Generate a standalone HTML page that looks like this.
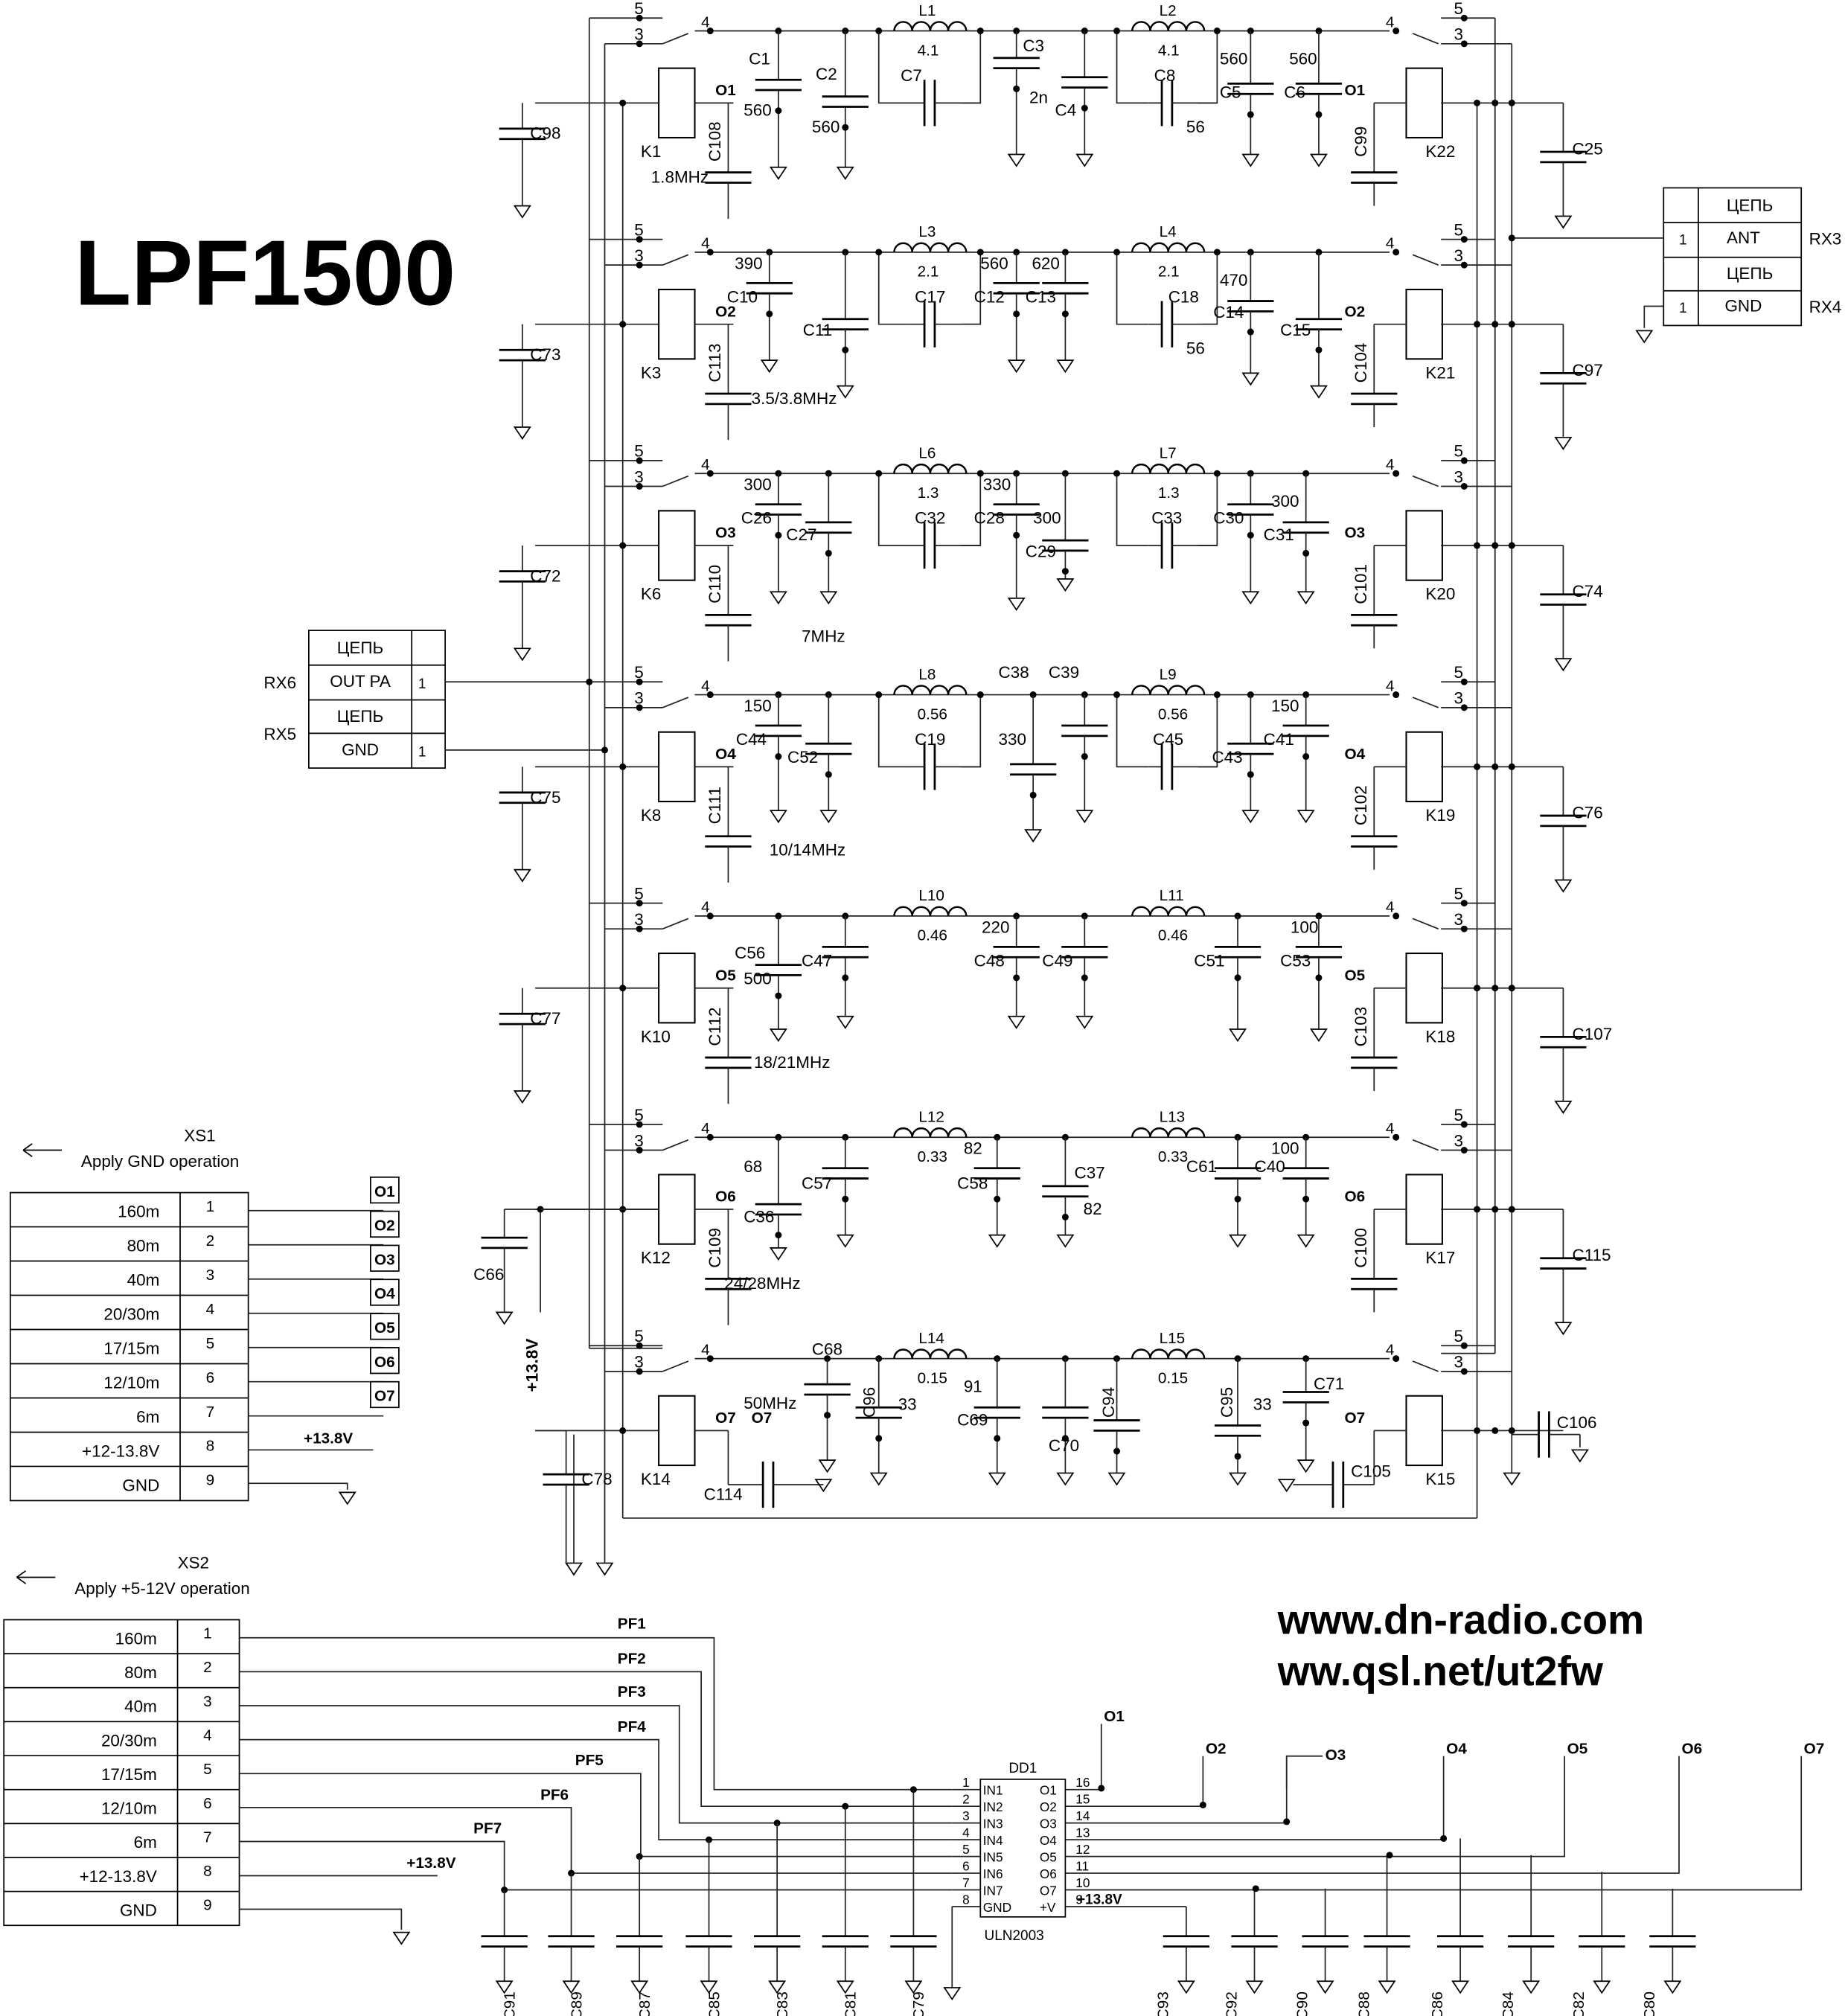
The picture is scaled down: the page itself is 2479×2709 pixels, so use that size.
<!DOCTYPE html>
<html><head><meta charset="utf-8"><style>
html,body{margin:0;padding:0;background:#fff;}
svg{display:block;}
text{font-family:"Liberation Sans",sans-serif;fill:#000;}
</style></head><body>
<svg id="s" xmlns="http://www.w3.org/2000/svg" width="2479" height="2709" viewBox="0 0 1434 1567"></svg>
<script>
(function(){
var o=[];
function L(a,b,c,d,w,col){o.push('<line x1="'+a+'" y1="'+b+'" x2="'+c+'" y2="'+d+'" stroke="'+(col||'#222')+'" stroke-width="'+(w||1)+'"/>');}
function P(pts,w){o.push('<polyline points="'+pts+'" fill="none" stroke="#222" stroke-width="'+(w||1)+'"/>');}
function R(x,y,w,h,sw){o.push('<rect x="'+x+'" y="'+y+'" width="'+w+'" height="'+h+'" fill="none" stroke="#000" stroke-width="'+(sw||1.2)+'"/>');}
function D(x,y){o.push('<circle cx="'+x+'" cy="'+y+'" r="2.6" fill="#000"/>');}
function T(x,y,s,sz,extra){o.push('<text x="'+x+'" y="'+y+'" font-size="'+(sz||13)+'" '+(extra||'')+'>'+s+'</text>');}
function G(x,y){o.push('<polygon points="'+(x-6)+','+y+' '+(x+6)+','+y+' '+x+','+(y+9)+'" fill="none" stroke="#000" stroke-width="1"/>');}
function CV(x,y1,m,y2,g){L(x,y1,x,m-4);L(x-18,m-4,x+18,m-4,1.6,'#000');L(x-18,m+4,x+18,m+4,1.6,'#000');L(x,m+4,x,y2);if(g)G(x,y2);}
function CH(x1,x2,y,m){L(x1,y,m-4,y);L(m-4,y-18,m-4,y+18,1.6,'#000');L(m+4,y-18,m+4,y+18,1.6,'#000');L(m+4,y,x2,y);}
function IND(x,y){var s='M'+x+' '+y;for(var i=0;i<4;i++){s+=' a7 7 0 0 1 14 0';}o.push('<path d="'+s+'" fill="none" stroke="#000" stroke-width="1.4"/>');}

L(458,14,458,1048);L(458,1048,515,1048);
L(470,34,470,1215);G(470,1215);
L(446,1115,446,1215);G(446,1215);
L(484,80,484,1180);L(484,1180,1148,1180);L(1148,80,1148,1180);
L(1162,14,1162,1052);L(1120,1052,1162,1052);
L(1175,34,1175,1145);G(1175,1145);

var rows=[
 {c:[[605,66,130],[657,79,130],[790,49,120],[843,64,120],[972,69,120],[1025,69,120]],par:[1,1],L:['L1','L2'],v:['4.1','4.1']},
 {c:[[598,224,280],[657,252,300],[790,224,280],[828,224,280],[972,238,290],[1025,252,300]],par:[1,1],L:['L3','L4'],v:['2.1','2.1']},
 {c:[[605,396,460],[644,410,460],[790,396,465],[828,424,450],[972,396,460],[1015,410,460]],par:[1,1],L:['L6','L7'],v:['1.3','1.3']},
 {c:[[605,568,630],[644,582,630],[803,598,645],[843,568,630],[972,582,630],[1015,568,630]],par:[1,1],L:['L8','L9'],v:['0.56','0.56']},
 {c:[[605,754,800],[657,740,790],[790,740,790],[843,740,790],[962,740,800],[1025,740,800]],par:[0,0],L:['L10','L11'],v:['0.46','0.46']},
 {c:[[605,940,970],[657,912,960],[775,912,960],[828,926,960],[962,912,960],[1015,912,960]],par:[0,0],L:['L12','L13'],v:['0.33','0.33']},
 {c:[[643,1080,1135],[683,1098,1145],[775,1098,1145],[828,1098,1145],[868,1108,1145],[962,1112,1145],[1015,1086,1135]],par:[0,0],L:['L14','L15'],v:['0.15','0.15']}
];
var lc=[[98,108,'K1','K22',25,99],[73,113,'K3','K21',97,104],[72,110,'K6','K20',74,101],[75,111,'K8','K19',76,102],[77,112,'K10','K18',107,103],[66,109,'K12','K17',115,100],[78,114,'K14','K15',106,105]];
for(var i=0;i<7;i++){
 var y0=14+i*172, y=y0+10, yc=y0+66, r=rows[i];
 L(458,y0,515,y0);D(497,y0);T(493,y0-3,'5',13);
 L(470,y0+20,515,y0+20);D(497,y0+20);T(493,y0+17,'3',13);
 L(515,y0+20,535,y0+12);L(540,y,1080,y);D(552,y);T(545,y-3,'4',12);
 L(1120,y0,1162,y0);D(1138,y0);T(1130,y0-3,'5',13);
 L(1120,y0+20,1175,y0+20);D(1138,y0+20);T(1130,y0+17,'3',13);
 L(1098,y0+12,1118,y0+20);D(1085,y);T(1077,y-3,'4',12);
 R(512,yc-27,28,54);R(1093,yc-27,28,54);
 L(416,yc,512,yc);D(484,yc);
 L(1120,yc,1215,yc);D(1148,yc);D(1162,yc);D(1175,yc);
 T(498,yc+42,lc[i][2],13);T(1108,yc+42,lc[i][3],13);
 if(i!=5&&i!=6){CV(406,yc,yc+24,yc+80,1);T(412,yc+28,'C'+lc[i][0],13);}
 if(i!=6){CV(1215,yc,yc+42,yc+88,1);T(1222,yc+40,'C'+lc[i][4],13);
  L(540,yc,570,yc);CV(566,yc,yc+58,yc+90,0);
  T(560,yc+30,'C'+lc[i][1],13,'transform="rotate(-90 560 '+(yc+30)+')" text-anchor="middle"');
  L(1068,yc,1093,yc);CV(1068,yc,yc+58,yc+80,0);
  T(1062,yc+30,'C'+lc[i][5],13,'transform="rotate(-90 1062 '+(yc+30)+')" text-anchor="middle"');}
 T(556,yc-6,'O'+(i+1),12,'font-weight="bold"');T(1045,yc-6,'O'+(i+1),12,'font-weight="bold"');
 IND(695,y);IND(880,y);
 T(714,y-12,r.L[0],12,'fill="#444"');T(901,y-12,r.L[1],12,'fill="#444"');
 T(713,y+19,r.v[0],12,'fill="#555" font-family="Liberation Mono"');T(900,y+19,r.v[1],12,'fill="#555" font-family="Liberation Mono"');
 for(var k=0;k<2;k++){ if(r.par[k]){var xa=k?868:683,xb=k?946:762;P(xa+','+y+' '+xa+','+(yc)+' '+(xa+25)+','+yc);CH(xa+25,xb,yc,(xa+xb)/2);P((xb-15)+','+yc+' '+xb+','+yc+' '+xb+','+y);D(xa,y);D(xb,y);} }
 for(var j=0;j<r.c.length;j++){var c=r.c[j];D(c[0],y);CV(c[0],y,c[1],c[2],1);D(c[0],c[1]+20);}
}
var tl=[[582,50,'C1'],[578,90,'560'],[634,62,'C2'],[631,103,'560'],[700,63,'C7'],[795,40,'C3'],[800,80,'2n'],[820,90,'C4'],[897,63,'C8'],[922,103,'56'],[948,50,'560'],[948,76,'C5'],[1002,50,'560'],[998,76,'C6'],[506,142,'1.8MHz'],
[571,209,'390'],[565,235,'C10'],[624,261,'C11'],[711,235,'C17'],[762,209,'560'],[757,235,'C12'],[802,209,'620'],[797,235,'C13'],[908,235,'C18'],[922,275,'56'],[948,222,'470'],[943,247,'C14'],[995,261,'C15'],[584,314,'3.5/3.8MHz'],
[578,381,'300'],[576,407,'C26'],[611,420,'C27'],[711,407,'C32'],[764,381,'330'],[757,407,'C28'],[803,407,'300'],[797,433,'C29'],[895,407,'C33'],[943,407,'C30'],[988,394,'300'],[982,420,'C31'],[623,499,'7MHz'],
[578,553,'150'],[572,579,'C44'],[612,593,'C52'],[711,579,'C19'],[776,527,'C38'],[815,527,'C39'],[776,579,'330'],[896,579,'C45'],[942,593,'C43'],[988,553,'150'],[982,579,'C41'],[598,665,'10/14MHz'],
[571,745,'C56'],[578,765,'500'],[623,751,'C47'],[763,725,'220'],[757,751,'C48'],[810,751,'C49'],[928,751,'C51'],[1003,725,'100'],[995,751,'C53'],[586,830,'18/21MHz'],
[578,911,'68'],[578,950,'C36'],[623,924,'C57'],[749,897,'82'],[744,924,'C58'],[835,916,'C37'],[842,944,'82'],[922,911,'C61'],[988,897,'100'],[975,911,'C40'],[563,1002,'24/28MHz'],
[631,1053,'C68'],[578,1095,'50MHz'],[698,1096,'33'],[749,1082,'91'],[744,1108,'C69'],[815,1128,'C70'],[974,1096,'33'],[1021,1080,'C71']];
tl.forEach(function(a){T(a[0],a[1],a[2],13);});
T(584,1106,'O7',12,'font-weight="bold"');
['C96','C94','C95'].forEach(function(s,n){var x=[680,866,958][n];T(x,1090,s,13,'transform="rotate(-90 '+x+' 1090)" text-anchor="middle"');});
L(540,1112,566,1112);P('566,1112 566,1154');CH(566,640,1154,597);G(640,1150);T(547,1166,'C114',13);
CH(1005,1068,1154,1040);T(1050,1148,'C105',13);P('1068,1112 1093,1112');L(1068,1112,1068,1154);G(1000,1150);
CH(1175,1228,1115,1200);T(1210,1110,'C106',13);P('1228,1115 1228,1125');G(1228,1127);
CV(440,1112,1150,1215,0);P('416,1112 440,1112');T(452,1154,'C78',13);
CV(392,940,966,1020,1);T(368,995,'C66',13);P('392,940 420,940 420,1020');D(420,940);L(420,940,512,940);
T(418,1082,'+13.8V',13,'font-weight="bold" transform="rotate(-90 418 1082)"');
T(58,237,'LPF1500',72,'font-weight="bold"');
T(993,1270,'www.dn-radio.com',32,'font-weight="bold"');
T(993,1310,'ww.qsl.net/ut2fw',32,'font-weight="bold"');
function tbl(x,y,a,b){R(x,y,106,107,1);L(x,y+27,x+106,y+27,1,'#000');L(x,y+54,x+106,y+54,1,'#000');L(x,y+80,x+106,y+80,1,'#000');L(x+80,y,x+80,y+107,1,'#000');
T(x+40,y+18,'ЦЕПЬ',13,'text-anchor="middle"');T(x+40,y+44,a,13,'text-anchor="middle"');T(x+40,y+71,'ЦЕПЬ',13,'text-anchor="middle"');T(x+40,y+97,b,13,'text-anchor="middle"');}
tbl(240,490,'OUT PA','GND');T(325,535,'1',11);T(325,588,'1',11);T(205,535,'RX6',13);T(205,575,'RX5',13);
L(346,530,458,530);D(458,530);L(346,583,470,583);D(470,583);
R(1293,146,107,107,1);L(1293,173,1400,173,1,'#000');L(1293,200,1400,200,1,'#000');L(1293,226,1400,226,1,'#000');L(1320,146,1320,253,1,'#000');
T(1360,164,'ЦЕПЬ',13,'text-anchor="middle"');T(1355,189,'ANT',13,'text-anchor="middle"');T(1360,217,'ЦЕПЬ',13,'text-anchor="middle"');T(1355,242,'GND',13,'text-anchor="middle"');
T(1305,190,'1',11);T(1305,243,'1',11);T(1406,190,'RX3',13);T(1406,243,'RX4',13);
L(1175,185,1293,185);D(1175,185);P('1293,238 1278,238 1278,255');G(1278,257);
var names=['160m','80m','40m','20/30m','17/15m','12/10m','6m','+12-13.8V','GND'];
function xs(x,y,w,h,c,title,sub){R(x,y,w,h*9,1);L(x+c,y,x+c,y+h*9,1,'#000');for(var i=1;i<9;i++)L(x,y+h*i,x+w,y+h*i,1,'#000');
for(var i=0;i<9;i++){T(x+c-16,y+h*i+h*0.72,names[i],13,'text-anchor="end"');T(x+c+20,y+h*i+h*0.55,String(i+1),12);}
T(x+135,y-40,title,13);T(x+55,y-20,sub,13);L(x+10,y-33,x+40,y-33,1,'#000');L(x+10,y-33,x+17,y-38,1,'#000');L(x+10,y-33,x+17,y-28,1,'#000');}
xs(8,927,185,26.6,132,'XS1','Apply GND operation');
xs(3,1259,183,26.4,135,'XS2','Apply +5-12V operation');
for(var i=0;i<7;i++){var yy=927+26.6*i+14;L(193,yy,298,yy);R(288,915+26.5*i,22,20,1);T(291,930+26.5*i,'O'+(i+1),12,'font-weight="bold"');}
L(193,1127,290,1127);T(236,1122,'+13.8V',12,'font-weight="bold"');P('193,1153 270,1153 270,1158');G(270,1160);
R(762,1383,66,107,1);T(784,1378,'DD1',11,'fill="#444"');T(765,1508,'ULN2003',11,'fill="#444" font-family="Liberation Mono"');
var ins=['IN1','IN2','IN3','IN4','IN5','IN6','IN7','GND'],outs=['O1','O2','O3','O4','O5','O6','O7','+V'];
var pfx=[555,545,528,512,498,444,392],cx=[710,657,604,551,497,444,392];
var pfl=[[480,1266],[480,1293],[480,1319],[480,1346],[447,1372],[420,1399],[368,1425]];
for(var k=0;k<8;k++){var yy=1391+13*k;L(740,yy,762,yy);T(764,yy+4,ins[k],10);T(808,yy+4,outs[k],10);T(748,yy-2,String(k+1),10);T(836,yy-2,String(16-k),10);
 if(k<7){var ty=1273+26.4*k;P('186,'+ty+' '+pfx[k]+','+ty+' '+pfx[k]+','+yy+' 740,'+yy);T(pfl[k][0],pfl[k][1],'PF'+(k+1),12,'font-weight="bold"');}}
P('186,1458 340,1458');T(316,1452,'+13.8V',12,'font-weight="bold"');P('186,1484 312,1484 312,1500');G(312,1502);
P('740,1482 740,1545');G(740,1545);
for(var k=0;k<7;k++){var yy=1391+13*k;var x=cx[k];D(x,yy);CV(x,yy,1509,1540,1);var lab=['C79','C81','C83','C85','C87','C89','C91'][k];T(x+8,1548,lab,12,'transform="rotate(-90 '+(x+8)+' 1548)" text-anchor="end"');}
var ox=[856,935,1000,1122,1216,1305,1400];
for(var k=0;k<7;k++){var yy=1391+13*k;var tp=k==0?1340:1365;P('828,'+yy+' '+ox[k]+','+yy+' '+ox[k]+','+tp);
 if(k!=2)T(ox[k]+2,tp-2,'O'+(k+1),12,'font-weight="bold"');}
P('1000,1390 1000,1365 1028,1365');T(1030,1368,'O3',12,'font-weight="bold"');
T(837,1480,'+13.8V',11,'font-weight="bold"');L(828,1482,922,1482);
var cr=[[922,'C93',1482],[975,'C92',1468],[1030,'C90',1468],[1078,'C88',1442],[1135,'C86',1429],[1190,'C84',1442],[1245,'C82',1455],[1300,'C80',1468]];
cr.forEach(function(c){CV(c[0],c[2],1509,1540,1);T(c[0]-14,1548,c[1],12,'transform="rotate(-90 '+(c[0]-14)+' 1548)" text-anchor="end"');});
D(856,1390);D(935,1403);D(1000,1416);D(1122,1429);D(1080,1442);D(976,1468);
document.getElementById('s').innerHTML=o.join('');
})();
</script>
</body></html>
